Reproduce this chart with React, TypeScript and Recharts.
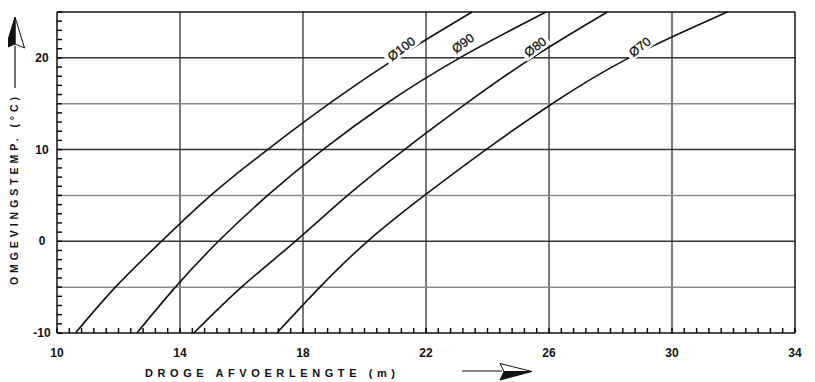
import React from 'react';
import { LineChart, Line, XAxis, YAxis, ReferenceLine, ReferenceDot } from 'recharts';

// Ambient temperature (°C) at which each curve is sampled
const temps = [-10, -5, 0, 5, 10, 15, 20, 25];

// Dry discharge length (m) per pipe diameter, one value per temperature above
const lengthD100 = [10.6, 11.9, 13.4, 15.0, 16.85, 18.85, 21.05, 23.5];
const lengthD90 = [12.6, 13.85, 15.25, 16.85, 18.65, 20.7, 23.1, 25.9];
const lengthD80 = [14.45, 16.0, 17.75, 19.45, 21.3, 23.3, 25.45, 27.9];
const lengthD70 = [17.15, 18.55, 20.1, 21.95, 23.95, 26.1, 28.6, 31.8];

const seriesNames = ['Ø100', 'Ø90', 'Ø80', 'Ø70'];
const seriesLengths = [lengthD100, lengthD90, lengthD80, lengthD70];

// Where each curve carries its diameter label (length, temperature)
const labelLengths = [21.2, 23.2, 25.55, 28.95];
const labelTemps = [21.0, 21.6, 21.2, 21.2];

const xMajorTicks = [10, 14, 18, 22, 26, 30, 34];
const yMajorTicks = [-10, 0, 10, 20];
const xGridLines = [14, 18, 22, 26, 30];
const yGridStrong = [0, 10, 20];
const yGridLight = [-5, 5, 15];

// Minor tick marks: every 0.4 m along x, every 1 °C along y
const xMinorTicks = Array.from({ length: 61 }, (_, i) => Math.round((10 + i * 0.4) * 10) / 10);
const yMinorTicks = Array.from({ length: 36 }, (_, i) => -10 + i);

const W = 807;
const H = 374;
const FONT = '"Liberation Sans", Arial, sans-serif';
const TICK_LEN = 5;
const TICK_COLOR = '#000';
const TICK_WIDTH = 1.4;

const seriesData = seriesLengths.map((lens) =>
  lens.map((len, i) => ({ len, temp: temps[i] }))
);

// Inward tick marks are drawn by the tick renderers themselves
const BottomTick = (props: any) => {
  const { x, y, payload } = props;
  const major = xMajorTicks.includes(payload.value);
  return (
    <g>
      <line x1={x} x2={x} y1={y} y2={y - TICK_LEN} stroke={TICK_COLOR} strokeWidth={TICK_WIDTH} />
      {major && (
        <text x={x} y={y + 20} dy="0.35em" textAnchor="middle" fontFamily={FONT} fontWeight="bold" fontSize={12} fill="#111">
          {payload.value}
        </text>
      )}
    </g>
  );
};

const TopTick = (props: any) => {
  const { x, y } = props;
  return <line x1={x} x2={x} y1={y} y2={y + TICK_LEN} stroke={TICK_COLOR} strokeWidth={TICK_WIDTH} />;
};

const LeftTick = (props: any) => {
  const { x, y, payload } = props;
  const major = yMajorTicks.includes(payload.value);
  return (
    <g>
      <line x1={x} x2={x + TICK_LEN} y1={y} y2={y} stroke={TICK_COLOR} strokeWidth={TICK_WIDTH} />
      {major && (
        <text x={x - 15} y={y} dy="0.35em" textAnchor="middle" fontFamily={FONT} fontWeight="bold" fontSize={12} fill="#111">
          {payload.value}
        </text>
      )}
    </g>
  );
};

const RightTick = (props: any) => {
  const { x, y } = props;
  return <line x1={x} x2={x - TICK_LEN} y1={y} y2={y} stroke={TICK_COLOR} strokeWidth={TICK_WIDTH} />;
};

const makeCurveLabel = (text: string) => (props: any) => {
  const { cx, cy } = props;
  const w = text.length * 8 + 6;
  return (
    <g transform={`translate(${cx},${cy}) rotate(-37)`}>
      <rect x={-w / 2} y={-7} width={w} height={14} fill="#fff" />
      <text x={0} y={0} dy="0.35em" textAnchor="middle" fontFamily={FONT} fontSize={12.5} fill="#111" stroke="#111" strokeWidth={0.3}>
        {text}
      </text>
    </g>
  );
};

const axisLineStyle = { stroke: '#111', strokeWidth: 1.5 };

export default function App() {
  return (
    <div style={{ position: 'relative', width: W, height: H }}>
      <LineChart width={W} height={H} margin={{ top: 3, right: 19, bottom: 19, left: 0 }}>
        <XAxis
          xAxisId="bottom"
          dataKey="len"
          type="number"
          domain={[10, 34]}
          ticks={xMinorTicks}
          interval={0}
          height={30}
          tickSize={0}
          tickMargin={0}
          tick={BottomTick}
          tickLine={false}
          axisLine={axisLineStyle}
        />
        <XAxis
          xAxisId="top"
          orientation="top"
          dataKey="len"
          type="number"
          domain={[10, 34]}
          ticks={xMinorTicks}
          interval={0}
          height={1}
          tickSize={0}
          tickMargin={0}
          tick={TopTick}
          tickLine={false}
          axisLine={axisLineStyle}
        />
        <YAxis
          yAxisId="left"
          type="number"
          domain={[-10, 25]}
          ticks={yMinorTicks}
          interval={0}
          width={49}
          tickSize={0}
          tickMargin={0}
          tick={LeftTick}
          tickLine={false}
          axisLine={axisLineStyle}
        />
        <YAxis
          yAxisId="right"
          orientation="right"
          type="number"
          domain={[-10, 25]}
          ticks={yMinorTicks}
          interval={0}
          width={1}
          tickSize={0}
          tickMargin={0}
          tick={RightTick}
          tickLine={false}
          axisLine={axisLineStyle}
        />

        {xGridLines.map((v) => (
          <ReferenceLine key={`gx${v}`} x={v} xAxisId="bottom" yAxisId="left" stroke="#7a7a7a" strokeWidth={2} />
        ))}
        {yGridLight.map((v) => (
          <ReferenceLine key={`gl${v}`} y={v} xAxisId="bottom" yAxisId="left" stroke="#8a8a8a" strokeWidth={1.5} />
        ))}
        {yGridStrong.map((v) => (
          <ReferenceLine key={`gs${v}`} y={v} xAxisId="bottom" yAxisId="left" stroke="#333" strokeWidth={1.5} />
        ))}

        {seriesData.map((d, i) => (
          <Line
            key={seriesNames[i]}
            data={d}
            xAxisId="bottom"
            yAxisId="left"
            dataKey="temp"
            name={seriesNames[i]}
            type="natural"
            stroke="#111"
            strokeWidth={1.6}
            dot={false}
            isAnimationActive={false}
          />
        ))}

        {seriesNames.map((name, i) => (
          <ReferenceDot
            key={`lbl${name}`}
            xAxisId="bottom"
            yAxisId="left"
            x={labelLengths[i]}
            y={labelTemps[i]}
            r={0}
            shape={makeCurveLabel(name)}
          />
        ))}
      </LineChart>

      <svg
        width={W}
        height={H}
        style={{ position: 'absolute', left: 0, top: 0, overflow: 'visible', pointerEvents: 'none' }}
      >
        {/* x-axis title and arrow */}
        <text
          x={137}
          y={365}
          dy="0.35em"
          textLength={250}
          lengthAdjust="spacing"
          fontFamily={FONT}
          fontWeight="bold"
          fontSize={11}
          fill="#111"
        >
          DROGE AFVOERLENGTE (m)
        </text>
        <line x1={454} y1={363} x2={494} y2={363} stroke="#111" strokeWidth={1.2} />
        <polygon points="492,355.5 524,363.5 496,363.5" fill="#fff" stroke="#111" strokeWidth={1} />
        <polygon points="492,372 524,363.5 496,363.5" fill="#111" stroke="#111" strokeWidth={1} />

        {/* y-axis title and arrow */}
        <text
          x={0}
          y={0}
          transform="translate(6,183) rotate(-90)"
          dy="0.35em"
          textAnchor="middle"
          textLength={188}
          lengthAdjust="spacing"
          fontFamily={FONT}
          fontWeight="bold"
          fontSize={10.5}
          fill="#111"
        >
          OMGEVINGSTEMP. (°C)
        </text>
        <line x1={7} y1={38} x2={7} y2={80} stroke="#111" strokeWidth={1.2} />
        <polygon points="7,9 16.5,40 7,36" fill="#fff" stroke="#111" strokeWidth={1} />
        <polygon points="7,9 -2.5,40 7,36" fill="#111" stroke="#111" strokeWidth={1} />
      </svg>
    </div>
  );
}
